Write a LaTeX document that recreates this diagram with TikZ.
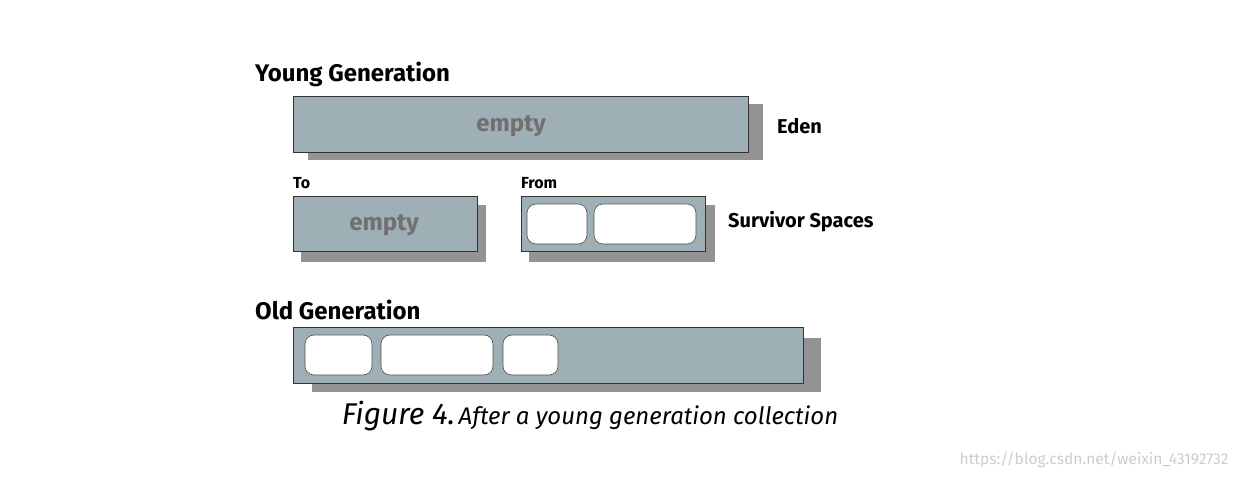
\documentclass[tikz,border=0pt]{standalone}
\usepackage{fontspec}
\setmainfont{Fira Sans}
\begin{document}
\begin{tikzpicture}[x=1pt,y=-1pt,
  box/.style={draw=black!80,line width=0.6pt,fill=boxc},
  shad/.style={fill=shadc,draw=none},
  obj/.style={draw=black!70,line width=0.6pt,fill=white,rounded corners=9pt},
  head/.style={font=\bfseries\fontsize{24}{26}\selectfont,anchor=west,inner sep=0},
  lbl/.style={font=\bfseries\fontsize{20}{22}\selectfont,anchor=west,inner sep=0},
  sm/.style={font=\bfseries\fontsize{16}{18}\selectfont,anchor=west,inner sep=0},
  emp/.style={font=\bfseries\fontsize{24}{26}\selectfont,text=emptc}]
\definecolor{boxc}{HTML}{9FAFB6}
\definecolor{shadc}{HTML}{939393}
\definecolor{emptc}{HTML}{707070}
\useasboundingbox (0,0) rectangle (1240,478);
% Eden
\fill[shad] (308,104) rectangle (763,160);
\draw[box] (293,96) rectangle (748,152);
\node[emp] (e1) at (511,126) {empty};
\node[lbl] (eden) at (777,126) {Eden};
\node[head] (yg) at (255,74) {Young Generation};
% To
\fill[shad] (301,205) rectangle (486,262);
\draw[box] (293,196) rectangle (477,251);
\node[emp] (e2) at (384,225) {empty};
\node[sm] (to) at (293,183) {To};
% From
\fill[shad] (529,205) rectangle (715,262);
\draw[box] (521,196) rectangle (705,251);
\draw[obj] (527,204) rectangle (587,244);
\draw[obj] (594,204) rectangle (696,244);
\node[sm] (from) at (521,183) {From};
\node[lbl] (ss) at (728,222) {Survivor Spaces};
% Old
\fill[shad] (312,338) rectangle (821,392);
\draw[box] (293,327) rectangle (803,383);
\draw[obj] (305,335) rectangle (372,375);
\draw[obj] (381,335) rectangle (493,375);
\draw[obj] (503,335) rectangle (558,375);
\node[head] (og) at (255,310) {Old Generation};
% caption
\node[font=\itshape,anchor=center] (cap) at (590,416) {{\fontsize{30}{32}\selectfont Figure 4.} {\fontsize{24}{26}\selectfont After a young generation collection}};
\node[text=black!20,font=\fontsize{15.6}{17}\selectfont,anchor=east] (wm) at (1232,460) {https://blog.csdn.net/weixin\_43192732};
\end{tikzpicture}
\end{document}
